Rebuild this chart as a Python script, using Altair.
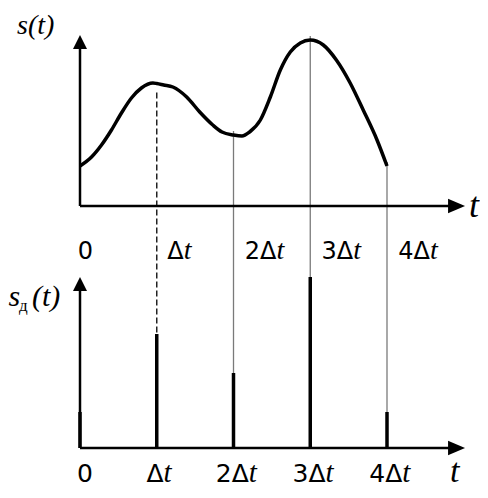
import altair as alt
import pandas as pd

# ---------------- data ----------------
# continuous signal s(t); t in units of Δt
curve_t = [0.0, 0.15, 0.28, 0.41, 0.54, 0.67, 0.80, 0.95, 1.0, 1.09, 1.21, 1.39,
           1.56, 1.73, 1.85, 2.0, 2.11, 2.21, 2.35, 2.48, 2.61, 2.74, 2.87, 3.0,
           3.17, 3.34, 3.52, 3.69, 3.87, 4.0]
curve_s = [4.0, 4.9, 6.1, 7.6, 9.3, 10.8, 11.8, 12.3, 12.25, 12.1, 11.9, 10.9,
           9.4, 8.1, 7.4, 7.1, 7.0, 7.4, 8.6, 10.9, 13.6, 15.4, 16.3, 16.6,
           16.1, 14.6, 12.3, 9.6, 6.6, 4.0]
# sampled signal s_д(t)
sample_t = [0, 1, 2, 3, 4]
sampled_s = [3.6, 11.4, 7.5, 17.1, 3.6]
tick_labels = ["0", "Δt", "2Δt", "3Δt", "4Δt"]

# ---------------- layout constants ----------------
W, H = 472, 482
PX = 76.75                      # pixels per Δt
X_DOM = [-72 / PX, (W - 72) / PX]
Y_DOM = [19.8 - H / 10, 19.8]   # 10 px per unit of s
GAP = 24.2                      # lower panel baseline offset
AX_END = 4.9
ARROW_T = 4.906
UP_TOP, UP_BOT = 16.4, -7.8

xs = alt.Scale(domain=X_DOM, nice=False, zero=False)
ys = alt.Scale(domain=Y_DOM, nice=False, zero=False)


def X(f):
    return alt.X(f, type="quantitative", scale=xs, axis=None)


def Y(f):
    return alt.Y(f, type="quantitative", scale=ys, axis=None)


curve_df = pd.DataFrame({"t": curve_t, "s": curve_s})
curve_at = dict(zip(curve_t, curve_s))
samp_df = pd.DataFrame({
    "t": sample_t,
    "top": [curve_at[t] for t in sample_t],
    "v": sampled_s,
    "label": tick_labels,
})

curve = alt.Chart(curve_df).mark_line(
    color="black", strokeWidth=3.5, interpolate="monotone"
).encode(x=X("t"), y=Y("s"))

bars = alt.Chart(samp_df).transform_calculate(
    base=f"-{GAP}", tip=f"datum.v - {GAP}"
).mark_rule(color="black", strokeWidth=3.5).encode(
    x=X("t"), y=Y("base"), y2=alt.Y2("tip:Q")
)

solid = alt.Chart(samp_df).transform_filter("datum.t >= 2").transform_calculate(
    a="datum.top + 0.4", b=f"datum.v - {GAP}"
).mark_rule(color="#7a7a7a", strokeWidth=1.3).encode(
    x=X("t"), y=Y("a"), y2=alt.Y2("b:Q")
)

dashed = alt.Chart(samp_df).transform_filter("datum.t == 1").transform_calculate(
    a="datum.top - 0.9", b=f"datum.v - {GAP}"
).mark_rule(color="#222222", strokeWidth=1.5, strokeDash=[6, 3]).encode(
    x=X("t"), y=Y("a"), y2=alt.Y2("b:Q")
)

axes_df = pd.DataFrame({
    "t": [0, 0, 0, 0],
    "t2": [0, AX_END, 0, AX_END],
    "s": [0, 0, -GAP, -GAP],
    "s2": [UP_TOP, 0, UP_BOT, -GAP],
})
axes = alt.Chart(axes_df).mark_rule(color="black", strokeWidth=2.5).encode(
    x=X("t"), x2=alt.X2("t2:Q"), y=Y("s"), y2=alt.Y2("s2:Q")
)

up_df = pd.DataFrame({"t": [0, 0], "s": [UP_TOP, UP_BOT]})
up = alt.Chart(up_df).mark_point(
    shape="M0,-1L1,1L-1,1Z", size=196, filled=True, color="black", opacity=1, strokeWidth=0
).encode(x=X("t"), y=Y("s"))

right_df = pd.DataFrame({"t": [ARROW_T, ARROW_T], "s": [0, -GAP]})
right = alt.Chart(right_df).mark_point(
    shape="M1,0L-1,-0.85L-1,0.85Z", size=289, filled=True, color="black", opacity=1, strokeWidth=0
).encode(x=X("t"), y=Y("s"))

lab = alt.Chart(samp_df).transform_calculate(
    prefix="replace(datum.label, 't', '')",
    tpart="indexof(datum.label, 't') >= 0 ? 't' : ''",
    mb=f"datum.label == '0' ? datum.t + 13/{PX} : datum.t + (11 + 16*length(replace(datum.label, 't', '')))/{PX}",
    bb=f"datum.label == '0' ? datum.t + 13/{PX} : datum.t + (-1.75 + 8.5*length(replace(datum.label, 't', '')))/{PX}",
    my="-5.3",
    by="-27.6",
)

mid_prefix = lab.mark_text(align="right", baseline="alphabetic", font="DejaVu Sans",
                           fontSize=24, color="black").encode(x=X("mb"), y=Y("my"), text="prefix:N")
mid_t = lab.mark_text(align="left", baseline="alphabetic", font="Liberation Serif",
                      fontStyle="italic", fontSize=28, color="black").encode(x=X("mb"), y=Y("my"), text="tpart:N")
bot_prefix = lab.mark_text(align="right", baseline="alphabetic", font="DejaVu Sans",
                           fontSize=25, color="black").encode(x=X("bb"), y=Y("by"), text="prefix:N")
bot_t = lab.mark_text(align="left", baseline="alphabetic", font="Liberation Serif",
                      fontStyle="italic", fontSize=29, color="black").encode(x=X("bb"), y=Y("by"), text="tpart:N")


def note(text, t, s, size, style="italic"):
    df = pd.DataFrame({"t": [t], "s": [s], "txt": [text]})
    return alt.Chart(df).mark_text(
        align="left", baseline="alphabetic", font="Liberation Serif",
        fontStyle=style, fontSize=size, color="black"
    ).encode(x=X("t"), y=Y("s"), text="txt:N")


notes = [
    note("s(t)", -0.821, 17.2, 28),
    note("s", -0.93, -10.0, 30),
    note("д", -0.795, -10.5, 17, "normal"),
    note("(t)", -0.625, -10.0, 30),
    note("t", 5.07, -1.1, 36),
    note("t", 4.82, -27.6, 34),
]

chart = alt.layer(
    solid, dashed, axes, up, right, curve, bars,
    mid_prefix, mid_t, bot_prefix, bot_t, *notes
).properties(
    width=W, height=H, padding=0, autosize=alt.AutoSizeParams(type="none"),
    background="white"
).configure_view(stroke=None)

chart.save("out.html", embed_options={"renderer": "svg", "actions": False})
